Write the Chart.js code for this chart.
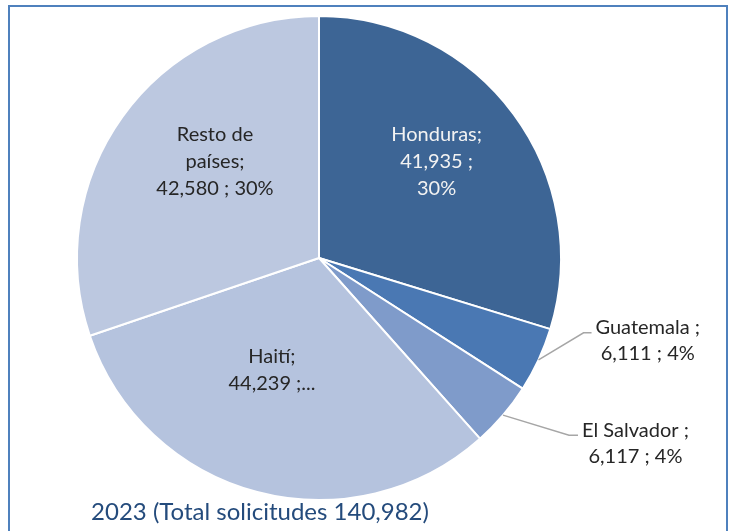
<!DOCTYPE html>
<html>
<head>
<meta charset="utf-8">
<script src="https://cdn.jsdelivr.net/npm/chart.js@4"></script>
<style>
  html, body { margin: 0; padding: 0; background: #fff; }
  #wrap { position: relative; width: 732px; height: 531px; overflow: hidden; }
  #frame { position: absolute; left: 8px; top: 5px; width: 716px; height: 540px; border: 2px solid #4f81bd; }
  canvas { position: absolute; left: 0; top: 0; }
</style>
</head>
<body>
<div id="wrap">
  <div id="frame"></div>
  <canvas id="chart" width="732" height="531"></canvas>
</div>
<script>
var categories = ["Honduras", "Guatemala", "El Salvador", "Haití", "Resto de países"];
var solicitudes = [41935, 6111, 6117, 44239, 42580];
var sliceColors = ["#3d6595", "#4a78b3", "#7f9bca", "#b5c3de", "#bcc8e0"];
var chartTitle = "2023 (Total solicitudes 140,982)";

// label text as it is wrapped in the picture
var labelLines = [
    ["Honduras;", "41,935 ;", "30%"],
    ["Guatemala ;", "6,111 ; 4%"],
    ["El Salvador ;", "6,117 ; 4%"],
    ["Haití;", "44,239 ;..."],
    ["Resto de", "países;", "42,580 ; 30%"]
];

var FONT = "Lato, 'Open Sans', sans-serif";

// where each label sits relative to its slice
var labelPlace = [
    { inside: true, f: 0.63, dx: -5, dy: -6, color: "#f2f2f2" },
    { inside: false, ex: 45, ey: -27, tail: 8 },
    { inside: false, ex: 66, ey: 20, tail: 9 },
    { inside: true, f: 0.47, dx: -18, dy: 2, color: "#262626" },
    { inside: true, f: 0.6, dx: 14, dy: -12, color: "#262626" }
];

var pieLabels = {
    id: "pieLabels",
    afterDraw: (chart) => {
        var ctx = chart.ctx;
        var arcs = chart.getDatasetMeta(0).data;
        var lh = 27;
        ctx.save();
        ctx.font = "20px " + FONT;
        ctx.textAlign = "center";
        ctx.textBaseline = "middle";
        arcs.forEach((arc, i) => {
            var p = labelPlace[i];
            var lines = labelLines[i];
            var mid = (arc.startAngle + arc.endAngle) / 2;
            var r = arc.outerRadius;
            if (p.inside) {
                var cx = arc.x + Math.cos(mid) * r * p.f + p.dx;
                var cy = arc.y + Math.sin(mid) * r * p.f + p.dy;
                ctx.fillStyle = p.color;
                lines.forEach((t, k) => {
                    ctx.fillText(t, cx, cy + (k - (lines.length - 1) / 2) * lh);
                });
            } else {
                var sx = arc.x + Math.cos(mid) * r;
                var sy = arc.y + Math.sin(mid) * r;
                var bx = sx + p.ex, by = sy + p.ey;
                ctx.strokeStyle = "#a6a6a6";
                ctx.lineWidth = 1.5;
                ctx.beginPath();
                ctx.moveTo(sx, sy);
                ctx.lineTo(bx, by);
                ctx.lineTo(bx + p.tail, by);
                ctx.stroke();
                var w = Math.max.apply(null, lines.map((t) => ctx.measureText(t).width));
                var tx = bx + p.tail + 4 + w / 2;
                ctx.fillStyle = "#262626";
                lines.forEach((t, k) => {
                    ctx.fillText(t, tx, by - 5 + k * 26);
                });
            }
        });
        ctx.font = "24px " + FONT;
        ctx.fillStyle = "#244b7c";
        ctx.fillText(chartTitle, 260, 512);
        ctx.restore();
    }
};

new Chart(document.getElementById("chart"), {
    type: "pie",
    data: {
        labels: categories,
        datasets: [{
            data: solicitudes,
            backgroundColor: sliceColors,
            borderColor: "#ffffff",
            borderWidth: 2
        }]
    },
    options: {
        responsive: false,
        animation: false,
        layout: {
            padding: { left: 76, right: 170, top: 15, bottom: 30 }
        },
        plugins: {
            legend: { display: false },
            tooltip: { enabled: false }
        }
    },
    plugins: [pieLabels]
});
</script>
</body>
</html>
